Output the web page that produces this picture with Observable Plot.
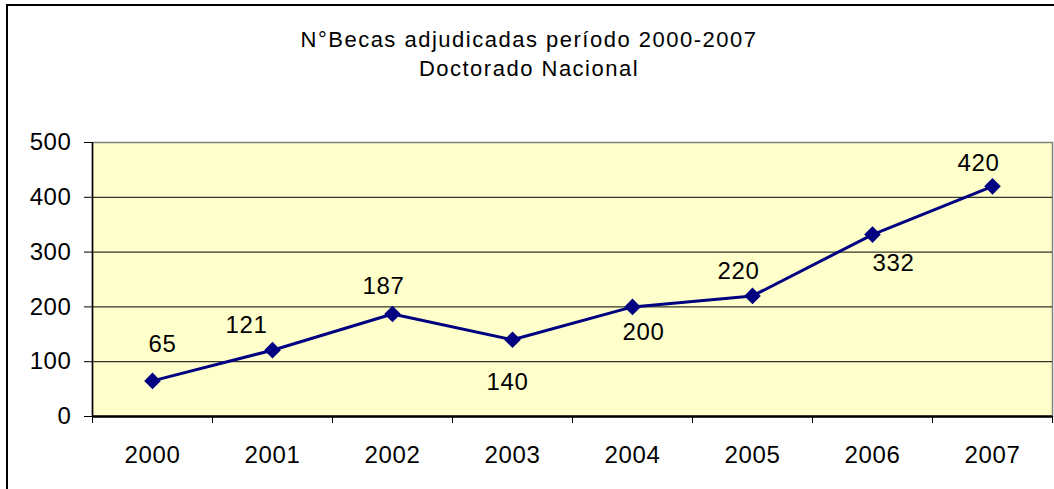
<!DOCTYPE html>
<html>
<head>
<meta charset="utf-8">
<script src="https://cdn.jsdelivr.net/npm/d3@7"></script>
<script src="https://cdn.jsdelivr.net/npm/@observablehq/plot@0.6"></script>
<style>
  html, body { margin: 0; padding: 0; background: #ffffff; overflow: hidden; width: 1054px; height: 489px; }
  body { position: relative; font-family: "Liberation Sans", Arial, sans-serif; }
  #border { position: absolute; left: 6px; top: 4px; width: 1080px; height: 520px; border: 2px solid #000; box-sizing: border-box; }
  #title { position: absolute; left: 0; top: 25px; width: 1058px; text-align: center; font-size: 22px; letter-spacing: 1.5px; line-height: 29px; color: #000; }
  #chart { position: absolute; left: 0; top: 125px; }
  #chart svg text { letter-spacing: 0.6px; }
</style>
</head>
<body>
<div id="border"></div>
<div id="title"></div>
<div id="chart"></div>
<script>
// ---- data ----
const years = [2000, 2001, 2002, 2003, 2004, 2005, 2006, 2007];
const becas = [65, 121, 187, 140, 200, 220, 332, 420];
const yTicks = [0, 100, 200, 300, 400, 500];
const titleLines = ["N°Becas adjudicadas período 2000-2007", "Doctorado Nacional"];

// ---- layout (label placement offsets in pixels, as in the reference) ----
const labelDx = [10, -26, -9, -5, 11, -14, 21, -14];
const labelDy = [-37, -25, -28, 43, 25, -25, 29, -23];

const titleEl = document.getElementById("title");
titleLines.forEach(t => { const d = document.createElement("div"); d.textContent = t; titleEl.appendChild(d); });

const idx = years.map((_, i) => i);
const bounds = years.map(y => y - 0.5).concat([years[years.length - 1] + 0.5]);
const gridVals = yTicks.slice(1, -1);

const labelMarks = idx.map(i => Plot.text([i], {
  x: j => years[j], y: j => becas[j], text: j => String(becas[j]),
  dx: labelDx[i], dy: labelDy[i], fill: "#000", fontSize: 24
}));

const chart = Plot.plot({
  width: 1054,
  height: 364,
  marginLeft: 92,
  marginRight: 2,
  marginTop: 17,
  marginBottom: 73,
  style: { fontFamily: "'Liberation Sans', Arial, sans-serif", fontSize: "24px", color: "#000", background: "transparent", overflow: "visible" },
  x: { type: "linear", domain: [bounds[0], bounds[bounds.length - 1]], axis: null },
  y: { domain: [yTicks[0], yTicks[yTicks.length - 1]], axis: null },
  marks: [
    Plot.frame({ fill: "#FFFFCC", stroke: "#808080", strokeWidth: 1.5 }),
    Plot.ruleY(gridVals, { stroke: "#000", strokeWidth: 1 }),
    Plot.axisY({ ticks: yTicks, tickSize: 8, tickPadding: 13, tickFormat: d => String(d), label: null, fontSize: 24, stroke: "#000" }),
    Plot.axisX({ ticks: bounds, tickSize: 7, tickFormat: () => "", label: null, stroke: "#000" }),
    Plot.axisX({ ticks: years, tickSize: 0, tickPadding: 29, tickFormat: d => String(d), label: null, fontSize: 24 }),
    Plot.ruleX([bounds[0]], { stroke: "#000", strokeWidth: 1.5 }),
    Plot.ruleY([yTicks[0]], { stroke: "#000", strokeWidth: 2.5 }),
    Plot.line(idx, { x: i => years[i], y: i => becas[i], stroke: "#000080", strokeWidth: 3 }),
    Plot.dot(idx, { x: i => years[i], y: i => becas[i], symbol: "diamond2", r: 7.5, fill: "#000080", stroke: "none" }),
    ...labelMarks
  ]
});
document.getElementById("chart").appendChild(chart);
</script>
</body>
</html>
